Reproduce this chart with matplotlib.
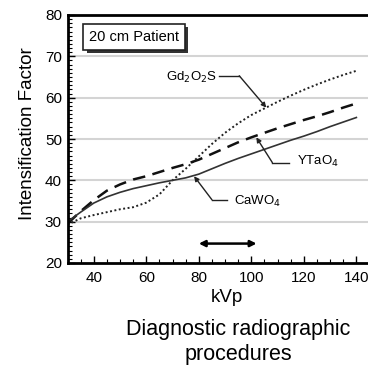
import matplotlib
matplotlib.use('Agg')
import matplotlib.pyplot as plt
import matplotlib.patheffects as pe
from matplotlib.ticker import MultipleLocator

plt.rcParams['font.family'] = ['Liberation Sans', 'DejaVu Sans']

kvp = [30, 35, 40, 45, 50, 55, 60, 65, 70, 75, 80, 85, 90, 95, 100,
       105, 110, 115, 120, 125, 130, 135, 140]

gd2o2s = [29.3, 30.8, 31.6, 32.3, 33.0, 33.5, 34.6, 36.6, 40.0, 42.8, 45.8, 48.8,
          51.5, 53.8, 55.8, 57.4, 59.0, 60.5, 61.9, 63.2, 64.4, 65.5, 66.5]
ytao4 = [29.5, 32.5, 35.2, 37.5, 39.0, 40.2, 41.0, 42.0, 43.0, 43.9, 45.0, 46.4,
         47.8, 49.2, 50.4, 51.5, 52.6, 53.6, 54.6, 55.5, 56.5, 57.6, 58.6]
cawo4 = [30.0, 32.3, 34.5, 36.0, 37.1, 38.0, 38.7, 39.4, 40.0, 40.6, 41.5, 42.8,
         44.1, 45.3, 46.4, 47.5, 48.6, 49.7, 50.7, 51.8, 53.0, 54.1, 55.2]

# range of kVp used for diagnostic radiography
diag_range = [80, 102]

fig = plt.figure(figsize=(3.68, 3.65), dpi=100)
ax = fig.add_axes([67.5 / 368, 102 / 365, 302 / 368, 248 / 365])

for y in range(30, 80, 10):
    ax.axhline(y, color='#d4d4d4', lw=1.5, zorder=0)

ax.plot(kvp, gd2o2s, color='#222222', lw=1.4, ls=(0, (1, 1.3)))
ax.plot(kvp, ytao4, color='#111111', lw=1.8, ls=(0, (5, 3)))
ax.plot(kvp, cawo4, color='#333333', lw=1.2)

ax.set_xlim(30, 145)
ax.set_ylim(20, 80)
ax.set_xticks([40, 60, 80, 100, 120, 140])
ax.set_yticks([20, 30, 40, 50, 60, 70, 80])
ax.xaxis.set_minor_locator(MultipleLocator(5))
ax.yaxis.set_minor_locator(MultipleLocator(1))
ax.tick_params(which='both', direction='in', labelsize=11, top=False, right=False)
ax.tick_params(which='major', length=5, width=1)
ax.tick_params(which='minor', length=3, width=0.8)
ax.tick_params(axis='x', pad=6)
ax.tick_params(axis='y', pad=4)
for s in ax.spines.values():
    s.set_linewidth(2)

arrow = dict(arrowstyle='-|>', color='#222222', lw=1, mutation_scale=7,
             shrinkA=0, shrinkB=0)

ax.annotate('', xy=(105.7, 57.6), xytext=(95.4, 65.3), arrowprops=arrow)
ax.plot([87.8, 95.4], [65.3, 65.3], color='#222222', lw=1)
ax.text(87, 65.0, 'Gd$_2$O$_2$S', ha='right', va='center', fontsize=9.5)

ax.annotate('', xy=(101.9, 50.4), xytext=(108, 44.3), arrowprops=arrow)
ax.plot([108, 114.5], [44.3, 44.3], color='#222222', lw=1)
ax.text(117.3, 44.5, 'YTaO$_4$', ha='left', va='center', fontsize=9.5)

ax.annotate('', xy=(78.2, 41.0), xytext=(85, 35.3), arrowprops=arrow)
ax.plot([85, 90.8], [35.3, 35.3], color='#222222', lw=1)
ax.text(93.3, 34.9, 'CaWO$_4$', ha='left', va='center', fontsize=9.5)

ax.annotate('', xy=(diag_range[0], 24.7), xytext=(diag_range[1], 24.7),
            arrowprops=dict(arrowstyle='<|-|>', color='black', lw=1.8,
                            mutation_scale=9, shrinkA=0, shrinkB=0))

t = ax.text(0.22, 0.912, '20 cm Patient', transform=ax.transAxes,
            ha='center', va='center', fontsize=10.5,
            bbox=dict(boxstyle='square,pad=0.4', fc='white', ec='#222222', lw=1.2))
t.get_bbox_patch().set_path_effects([
    pe.SimplePatchShadow(offset=(2.5, -2.5), shadow_rgbFace='#333333', alpha=1),
    pe.Normal()])

fig.text(28 / 368, 1 - 134 / 365, 'Intensification Factor', rotation=90,
         ha='center', va='center', fontsize=13.5)
fig.text(227 / 368, 1 - 298 / 365, 'kVp', ha='center', va='center', fontsize=13.5)
fig.text(238 / 368, 1 - 342 / 365, 'Diagnostic radiographic\nprocedures',
         ha='center', va='center', fontsize=15.5, linespacing=1.25)

fig.savefig('out.png', dpi=100)
